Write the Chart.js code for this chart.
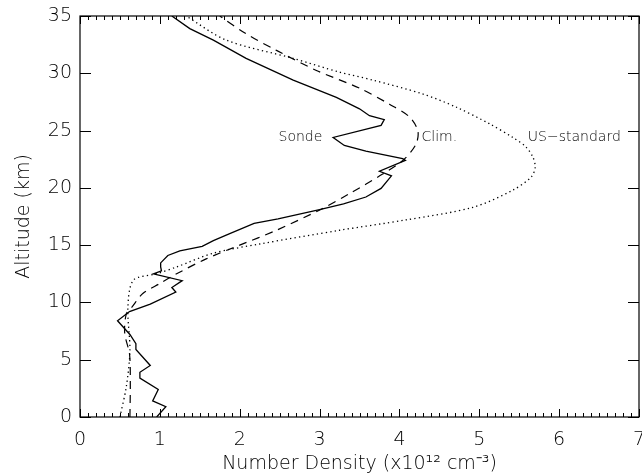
<!DOCTYPE html>
<html>
<head>
  <meta charset="UTF-8">
  <title>Ozone number density profiles</title>
  <style>
    body { margin: 0; background: #fff; }
    #wrap { width: 642px; height: 474px; position: relative; }
  </style>
</head>
<body>
  <div id="wrap"><canvas id="chart"></canvas></div>

  <script src="https://cdn.jsdelivr.net/npm/chart.js"></script>
  <script>
    // Sonde profile (x10^12 cm^-3 vs km)
    const sondeDensity = [0.96, 1.075, 0.91, 0.98, 0.75, 0.75, 0.88, 0.70, 0.70, 0.625, 0.47, 0.62, 0.88, 1.2, 1.15, 1.28, 0.92, 1.02, 1.01, 1.01, 1.10, 1.25, 1.53, 1.67, 1.875, 2.18, 2.48, 3.0, 3.3, 3.58, 3.77, 3.9, 3.75, 4.075, 4.04, 3.58, 3.31, 3.17, 3.77, 3.81, 3.625, 3.5, 3.21, 2.67, 2.08, 1.67, 1.375, 1.15];
    const sondeAltitude = [0, 0.9, 1.4, 2.4, 3.4, 3.9, 4.5, 5.9, 6.4, 7.2, 8.4, 9.2, 9.85, 10.9, 11.3, 11.9, 12.5, 12.75, 13.1, 13.45, 14.1, 14.5, 14.9, 15.4, 16.0, 16.9, 17.3, 18.1, 18.6, 19.2, 19.95, 21.05, 21.45, 22.4, 22.55, 23.2, 23.7, 24.4, 25.45, 25.95, 26.3, 26.9, 27.9, 29.4, 31.3, 32.9, 33.9, 35];

    // Climatology
    const climDensity = [0.625, 0.63, 0.62, 0.56, 0.58, 0.65, 0.79, 1.0, 1.21, 1.58, 2.0, 2.46, 3.04, 3.375, 3.79, 4.06, 4.21, 4.23, 4.125, 3.875, 3.5, 2.96, 2.46, 2.08, 1.75];
    const climAltitude = [0, 2.9, 5.5, 7.3, 9.0, 9.6, 10.8, 11.65, 12.5, 13.8, 15.0, 16.3, 18.2, 19.5, 21.2, 22.5, 23.85, 25.0, 26.2, 27.3, 28.7, 30.25, 32.0, 33.45, 35];

    // US standard atmosphere
    const usDensity = [0.5, 0.58, 0.625, 0.6, 0.67, 0.96, 1.21, 1.67, 2.25, 3.25, 4.08, 4.92, 5.42, 5.65, 5.7, 5.67, 5.58, 5.42, 5.125, 4.71, 4.29, 3.67, 3.25, 2.67, 1.83, 1.33];
    const usAltitude = [0, 2.65, 5.8, 9.6, 11.95, 12.5, 13.1, 14.3, 15.1, 16.3, 17.2, 18.3, 19.8, 20.95, 21.8, 22.7, 23.6, 24.4, 25.6, 27.05, 28.2, 29.4, 30.1, 31.3, 32.9, 35];

    const curveNames = ["Sonde", "Clim.", "US\u2212standard"];
    const curveLabelX = [2.76, 4.5, 6.19];
    const curveLabelY = [24.4, 24.4, 24.4];

    const xTicks = [0, 1, 2, 3, 4, 5, 6, 7];
    const yTicks = [0, 5, 10, 15, 20, 25, 30, 35];

    const FONT = "'DejaVu Sans', sans-serif";
    const INK = "#000";

    function points(xs, ys) {
      return xs.map((x, i) => ({ x, y: ys[i] }));
    }

    // inward IDL-style ticks, frame and curve labels
    const framePlugin = {
      id: "frame",
      afterDatasetsDraw(chart) {
        const { ctx, chartArea: a, scales: { x, y } } = chart;
        ctx.save();
        ctx.strokeStyle = "#000";
        ctx.lineWidth = 1.2;
        ctx.strokeRect(a.left, a.top, a.right - a.left, a.bottom - a.top);

        ctx.lineWidth = 1;
        ctx.beginPath();
        for (let i = 0; i <= 70; i++) {
          const px = Math.round(x.getPixelForValue(i / 10)) + 0.5;
          const len = i % 10 === 0 ? 8 : 4;
          ctx.moveTo(px, a.bottom); ctx.lineTo(px, a.bottom - len);
          ctx.moveTo(px, a.top); ctx.lineTo(px, a.top + len);
        }
        yTicks.forEach(v => {
          const py = Math.round(y.getPixelForValue(v)) + 0.5;
          ctx.moveTo(a.left, py); ctx.lineTo(a.left + 11, py);
          ctx.moveTo(a.right, py); ctx.lineTo(a.right - 11, py);
        });
        ctx.stroke();

        ctx.fillStyle = INK;
        ctx.font = "200 14px " + FONT;
        ctx.textAlign = "center";
        ctx.textBaseline = "middle";
        curveNames.forEach((t, i) => {
          ctx.fillText(t, x.getPixelForValue(curveLabelX[i]), y.getPixelForValue(curveLabelY[i]));
        });
        ctx.restore();
      }
    };

    new Chart(document.getElementById("chart"), {
      type: "scatter",
      data: {
        datasets: [
          {
            label: "Sonde",
            data: points(sondeDensity, sondeAltitude),
            showLine: true,
            borderColor: "#000",
            borderWidth: 1.3,
            pointRadius: 0,
            tension: 0
          },
          {
            label: "Clim.",
            data: points(climDensity, climAltitude),
            showLine: true,
            borderColor: "#000",
            borderWidth: 1.2,
            borderDash: [8, 6],
            pointRadius: 0,
            tension: 0.3
          },
          {
            label: "US-standard",
            data: points(usDensity, usAltitude),
            showLine: true,
            borderColor: "#000",
            borderWidth: 1.3,
            borderDash: [1.3, 3.2],
            pointRadius: 0,
            tension: 0.3
          }
        ]
      },
      options: {
        responsive: true,
        maintainAspectRatio: false,
        animation: false,
        layout: { padding: { top: 16, right: 3, left: 0, bottom: 0 } },
        plugins: {
          legend: { display: false },
          tooltip: { enabled: false }
        },
        scales: {
          x: {
            type: "linear",
            min: 0,
            max: 7,
            afterBuildTicks: s => { s.ticks = xTicks.map(v => ({ value: v })); },
            afterFit: s => { s.height = 57; s.paddingLeft = 0; s.paddingRight = 0; },
            grid: { display: false, drawTicks: false },
            border: { display: false },
            ticks: {
              padding: 12,
              color: INK,
              font: { family: FONT, size: 19, weight: "200" }
            },
            title: {
              display: true,
              text: "Number Density (x10\u00b9\u00b2 cm\u207b\u00b3)",
              color: INK,
              padding: 0,
              font: { family: FONT, size: 19, weight: "200", lineHeight: 1.05 }
            }
          },
          y: {
            type: "linear",
            min: 0,
            max: 35,
            afterBuildTicks: s => { s.ticks = yTicks.map(v => ({ value: v })); },
            afterFit: s => { s.width = 80; s.paddingTop = 0; s.paddingBottom = 0; },
            grid: { display: false, drawTicks: false },
            border: { display: false },
            ticks: {
              padding: 8,
              color: INK,
              font: { family: FONT, size: 19, weight: "200" }
            },
            title: {
              display: true,
              text: "Altitude (km)",
              color: INK,
              padding: { top: 13, bottom: 0 },
              font: { family: FONT, size: 19, weight: "200" }
            }
          }
        }
      },
      plugins: [framePlugin]
    });
  </script>
</body>
</html>
